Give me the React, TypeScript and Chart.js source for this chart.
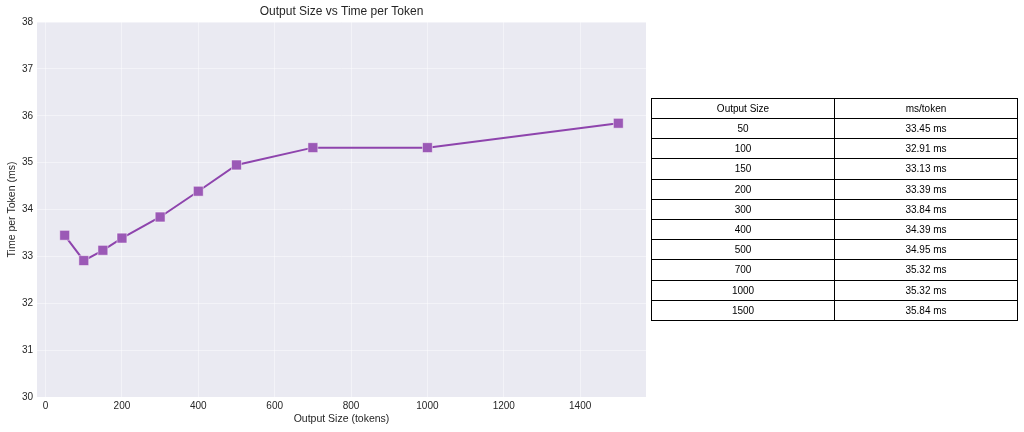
import React, { useEffect, useRef } from "react";
import { Chart, registerables } from "chart.js";

Chart.register(...registerables);

const outputSizes = [50, 100, 150, 200, 300, 400, 500, 700, 1000, 1500];
const msPerToken = [33.45, 32.91, 33.13, 33.39, 33.84, 34.39, 34.95, 35.32, 35.32, 35.84];
const xTickValues = [0, 200, 400, 600, 800, 1000, 1200, 1400];
const yTickValues = [30, 31, 32, 33, 34, 35, 36, 37, 38];
const tableHeaders = ["Output Size", "ms/token"];

const FONT = "'Liberation Sans', Arial, sans-serif";

export default function App() {
  const ref = useRef<HTMLCanvasElement | null>(null);

  useEffect(() => {
    if (!ref.current) return;
    const bgPlugin = {
      id: "bg",
      beforeDraw(chart: any) {
        const { ctx, chartArea } = chart;
        ctx.save();
        ctx.fillStyle = "#EAEAF2";
        ctx.fillRect(chartArea.left, chartArea.top, chartArea.right - chartArea.left, chartArea.bottom - chartArea.top);
        ctx.restore();
      },
      afterDraw(chart: any) {
        const { ctx, chartArea } = chart;
        ctx.save();
        ctx.fillStyle = "#262626";
        ctx.font = `12px ${FONT}`;
        ctx.textAlign = "center";
        ctx.textBaseline = "middle";
        ctx.fillText("Output Size vs Time per Token", (chartArea.left + chartArea.right) / 2, 12);
        ctx.restore();
      },
    };
    const chart = new Chart(ref.current, {
      type: "line",
      data: {
        datasets: [
          {
            data: outputSizes.map((x, i) => ({ x, y: msPerToken[i] })),
            borderColor: "#8E44AD",
            borderWidth: 2,
            pointStyle: "rect",
            pointRadius: 7,
            pointBackgroundColor: "#9B59B6",
            pointBorderColor: "#FFFFFF",
            pointBorderWidth: 0.5,
            tension: 0,
          },
        ],
      },
      options: {
        animation: false,
        responsive: false,
        maintainAspectRatio: false,
        layout: { padding: { top: 22, right: 378, left: 0, bottom: 0 } },
        plugins: { legend: { display: false }, tooltip: { enabled: false }, title: { display: false } },
        scales: {
          x: {
            type: "linear",
            min: -22.5,
            max: 1572.5,
            afterBuildTicks: (s: any) => {
              s.ticks = xTickValues.map((v) => ({ value: v }));
            },
            afterFit: (s: any) => {
              s.height = 35;
            },
            grid: { color: "rgba(255,255,255,0.55)", lineWidth: 0.8, drawTicks: false },
            border: { display: false },
            ticks: {
              color: "#262626",
              font: { family: FONT, size: 10 },
              padding: 3,
              maxRotation: 0,
              callback: (v: any) => String(v),
            },
            title: {
              display: true,
              text: "Output Size (tokens)",
              color: "#262626",
              font: { family: FONT, size: 10.5 },
              padding: { top: 0, bottom: 7 },
            },
          },
          y: {
            type: "linear",
            min: 30,
            max: 38,
            afterBuildTicks: (s: any) => {
              s.ticks = yTickValues.map((v) => ({ value: v }));
            },
            afterFit: (s: any) => {
              s.width = 37;
            },
            grid: { color: "rgba(255,255,255,0.55)", lineWidth: 0.8, drawTicks: false },
            border: { display: false },
            ticks: { color: "#262626", font: { family: FONT, size: 10 }, padding: 4, callback: (v: any) => String(v) },
            title: {
              display: true,
              text: "Time per Token (ms)",
              color: "#262626",
              font: { family: FONT, size: 10.5 },
              padding: { top: 6, bottom: 0 },
            },
          },
        },
      },
      plugins: [bgPlugin],
    });
    return () => chart.destroy();
  }, []);

  const cell: React.CSSProperties = {
    border: "1px solid #000",
    textAlign: "center",
    verticalAlign: "middle",
    padding: 0,
    height: 19,
    fontSize: 10,
    color: "#000",
  };

  return (
    <div style={{ position: "fixed", left: 0, top: 0, width: 1024, height: 432, background: "#fff", fontFamily: FONT }}>
      <canvas ref={ref} width={1024} height={432} style={{ position: "absolute", left: 0, top: 0, width: 1024, height: 432 }} />
      <table
        style={{
          position: "absolute",
          left: 651,
          top: 98,
          width: 367,
          height: 223,
          borderCollapse: "collapse",
          tableLayout: "fixed",
          fontFamily: FONT,
        }}
      >
        <thead>
          <tr>
            {tableHeaders.map((h) => (
              <th key={h} style={{ ...cell, fontWeight: "normal", width: "50%" }}>
                {h}
              </th>
            ))}
          </tr>
        </thead>
        <tbody>
          {outputSizes.map((s, i) => (
            <tr key={s}>
              <td style={cell}>{s}</td>
              <td style={cell}>{msPerToken[i].toFixed(2)} ms</td>
            </tr>
          ))}
        </tbody>
      </table>
    </div>
  );
}
